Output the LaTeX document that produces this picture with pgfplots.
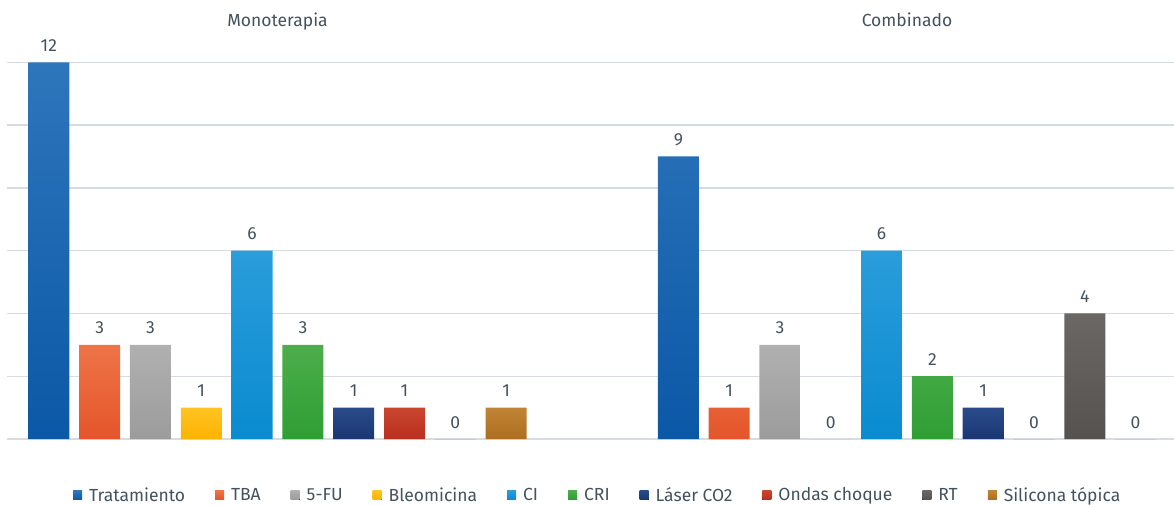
\documentclass[border=0pt]{standalone}
\usepackage{fontspec}
\setmainfont{Fira Sans}
\usepackage{pgfplots}
\pgfplotsset{compat=1.18}
\definecolor{txt}{HTML}{44525E}
\definecolor{gridc}{HTML}{D7DCE3}
\definecolor{aB}{HTML}{0B58A6}\definecolor{aT}{HTML}{2E76BC}
\definecolor{bB}{HTML}{E4552A}\definecolor{bT}{HTML}{EE7447}
\definecolor{cB}{HTML}{9C9C9C}\definecolor{cT}{HTML}{B0B0B0}
\definecolor{dB}{HTML}{FDB200}\definecolor{dT}{HTML}{FFC423}
\definecolor{eB}{HTML}{0A8BD0}\definecolor{eT}{HTML}{2A9DDB}
\definecolor{fB}{HTML}{2E9E34}\definecolor{fT}{HTML}{4DAE4B}
\definecolor{gB}{HTML}{1A3773}\definecolor{gT}{HTML}{2A4B8A}
\definecolor{hB}{HTML}{BA2F1E}\definecolor{hT}{HTML}{C9462F}
\definecolor{iB}{HTML}{55524F}\definecolor{iT}{HTML}{6A6764}
\definecolor{jB}{HTML}{AD6E1F}\definecolor{jT}{HTML}{BF8535}
\begin{document}
\begin{tikzpicture}[font=\fontsize{17.5}{20}\selectfont]
\path[use as bounding box] (0,0) rectangle (1174pt,-505pt);
\begin{axis}[
  at={(7pt,-439pt)}, anchor=south west, scale only axis,
  width=1167pt, height=376.7pt,
  xmin=-0.4297, xmax=1.4242, ymin=0, ymax=12,
  clip=false,
  axis line style={draw=none},
  tick style={draw=none},
  ytick={0,2,...,12}, yticklabels={},
  ymajorgrids, grid style={line width=1.3pt, color=gridc},
  xtick={0,1}, xticklabels={Monoterapia, Combinado},
  xticklabel pos=upper,
  xticklabel style={anchor=base, yshift=36pt, text=txt, font=\fontsize{17.5}{20}\selectfont},
  bar width=0.0651,
  nodes near coords,
  /pgf/number format/assume math mode=true,
  every node near coord/.append style={anchor=base, yshift=11pt, text=txt, font=\fontsize{17.5}{20}\selectfont},
  legend columns=10,
  legend style={at={(0.5062,0)}, anchor=center, yshift=-56pt, draw=none, fill=none,
    font=\fontsize{17.5}{20}\selectfont, text=txt,
    /tikz/every odd column/.append style={column sep=5pt},
    /tikz/every even column/.append style={column sep=28pt}},
  legend image code/.code={\fill[#1] (0pt,-4.5pt) rectangle (9pt,4.5pt);},
]
\addplot[ybar, draw=none, bar shift=0, bottom color=aB, top color=aT] coordinates {(-0.3632,12) (0.6368,9)};
\addplot[ybar, draw=none, bar shift=0, bottom color=bB, top color=bT] coordinates {(-0.2825,3) (0.7175,1)};
\addplot[ybar, draw=none, bar shift=0, bottom color=cB, top color=cT] coordinates {(-0.2018,3) (0.7982,3)};
\addplot[ybar, draw=none, bar shift=0, bottom color=dB, top color=dT] coordinates {(-0.1211,1) (0.8789,0)};
\addplot[ybar, draw=none, bar shift=0, bottom color=eB, top color=eT] coordinates {(-0.0404,6) (0.9596,6)};
\addplot[ybar, draw=none, bar shift=0, bottom color=fB, top color=fT] coordinates {(0.0404,3) (1.0404,2)};
\addplot[ybar, draw=none, bar shift=0, bottom color=gB, top color=gT] coordinates {(0.1211,1) (1.1211,1)};
\addplot[ybar, draw=none, bar shift=0, bottom color=hB, top color=hT] coordinates {(0.2018,1) (1.2018,0)};
\addplot[ybar, draw=none, bar shift=0, bottom color=iB, top color=iT] coordinates {(0.2825,0) (1.2825,4)};
\addplot[ybar, draw=none, bar shift=0, bottom color=jB, top color=jT] coordinates {(0.3632,1) (1.3632,0)};
\legend{Tratamiento, TBA, 5-FU, Bleomicina, CI, CRI, Láser CO2, Ondas choque, RT, Silicona tópica}
\end{axis}
\end{tikzpicture}
\end{document}
